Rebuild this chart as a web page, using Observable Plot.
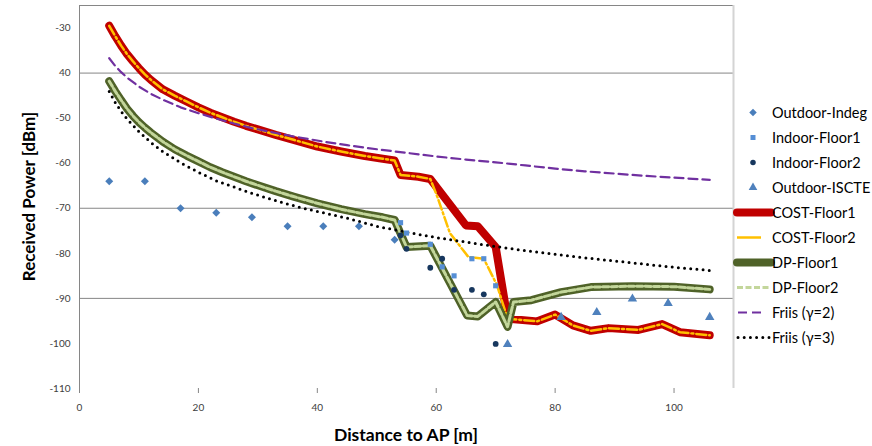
<!DOCTYPE html>
<html><head><meta charset="utf-8">
<script src="https://cdn.jsdelivr.net/npm/d3@7"></script>
<script src="https://cdn.jsdelivr.net/npm/@observablehq/plot@0.6"></script>
<style>
body{margin:0;background:#fff;}
#chart{position:relative;width:872px;height:446px;}
</style></head><body><div id="chart"></div>
<script>
// ---- data ----
const xTicks = [0, 20, 40, 60, 80, 100];
const yTickValues = [-110, -100, -90, -80, -70, -60, -50, -40, -30];
const yTickLabels = ["-110", "-100", "-90", "-80", "-70", "-60", "-50", "40", "-30"];
const gridValues = [-90, -70, -40, -25];

const indegDist = [5, 11, 17, 23, 29, 35, 41, 47, 53];
const indegPower = [-64, -64, -70, -71, -72, -74, -74, -74, -77];

const indoorDist = [54, 55, 59, 61, 63, 66, 68, 70];
const indoorFloor1Power = [-73.2, -75.5, -78, -83, -85, -81.2, -81.2, -87.2];
const indoorFloor2Power = [-76, -79, -83.2, -81.2, -88.1, -88.1, -89.1, -100.1];

const iscteDist = [72, 81, 87, 93, 99, 106];
const isctePower = [-100.2, -94.2, -93.1, -90.1, -91.1, -94.2];

const costDist = [5, 6, 7, 8, 9, 10, 11, 12, 14, 16, 18, 20, 22, 24, 26, 28, 30, 33, 36, 40, 44, 48, 51, 53, 54, 57, 59, 65, 67, 70, 72, 77, 80, 83, 86, 89, 94, 98, 101, 106];
const costFloor1Power = [-29.5, -31.8, -33.9, -35.8, -37.4, -38.9, -40.3, -41.5, -43.6, -45.0, -46.3, -47.6, -48.8, -49.8, -50.8, -51.7, -52.5, -53.7, -54.8, -56.3, -57.4, -58.4, -59.0, -59.4, -62.6, -63.0, -63.5, -73.8, -74.0, -78.6, -94.5, -95.1, -93.6, -96.0, -97.2, -96.6, -97.0, -95.7, -97.5, -98.2];

const cost2Dist = [5, 6, 7, 8, 9, 10, 11, 12, 14, 16, 18, 20, 22, 24, 26, 28, 30, 33, 36, 40, 44, 48, 51, 53, 54, 57, 59, 60.2, 62.3, 65.4, 68, 70.2, 72, 77, 80, 83, 86, 89, 94, 98, 101, 106];
const costFloor2Power = [-29.5, -31.8, -33.9, -35.8, -37.4, -38.9, -40.3, -41.5, -43.6, -45.0, -46.3, -47.6, -48.8, -49.8, -50.8, -51.7, -52.5, -53.7, -54.8, -56.3, -57.4, -58.4, -59.0, -59.4, -62.6, -63.0, -63.5, -67.5, -75.5, -80.8, -81.2, -87.0, -94.5, -95.1, -93.6, -96.0, -97.2, -96.6, -97.0, -95.7, -97.5, -98.2];

const dpDist = [5, 6, 7, 8, 9, 10, 11, 12, 14, 16, 18, 20, 22, 24, 26, 28, 30, 33, 36, 40, 44, 48, 51, 53, 55, 59, 65.2, 67, 70, 72, 73, 76, 81, 86, 93, 100, 106];
const dpFloor1Power = [-41.8, -44.0, -46.0, -47.9, -49.5, -50.9, -52.1, -53.2, -55.2, -56.9, -58.3, -59.6, -60.9, -62.0, -63.0, -64.0, -64.9, -66.2, -67.4, -68.9, -70.2, -71.3, -72.0, -72.6, -78.6, -78.3, -93.8, -94.0, -90.8, -96.3, -90.8, -90.4, -88.6, -87.5, -87.3, -87.4, -88.0];
const dpFloor2Power = [-41.8, -44.0, -46.0, -47.9, -49.5, -50.9, -52.1, -53.2, -55.2, -56.9, -58.3, -59.6, -60.9, -62.0, -63.0, -64.0, -64.9, -66.2, -67.4, -68.9, -70.2, -71.3, -72.0, -72.6, -78.6, -78.3, -93.8, -94.0, -90.8, -96.3, -90.8, -90.4, -88.6, -87.5, -87.3, -87.4, -88.0];

const friisDist = [5, 6, 7, 8, 10, 12, 14, 17, 20, 23, 26, 29, 33, 37, 41, 45, 50, 55, 60, 65, 70, 75, 80, 85, 90, 95, 100, 106];
const friis2Power = [-36.7, -38.4, -39.8, -41.0, -43.0, -44.6, -45.9, -47.6, -48.9, -50.1, -51.2, -52.2, -53.3, -54.3, -55.2, -56.0, -56.9, -57.7, -58.5, -59.2, -59.8, -60.5, -61.2, -61.8, -62.3, -62.8, -63.2, -63.7];
const friis3Power = [-44.1, -46.5, -48.5, -50.2, -53.0, -55.4, -57.4, -59.9, -62.0, -63.9, -65.3, -66.7, -68.3, -69.8, -71.0, -72.2, -74.0, -75.3, -76.5, -77.5, -78.5, -79.4, -80.2, -81.0, -81.7, -82.4, -83.1, -83.8];

const seriesNames = ["Outdoor-Indeg", "Indoor-Floor1", "Indoor-Floor2", "Outdoor-ISCTE", "COST-Floor1", "COST-Floor2", "DP-Floor1", "DP-Floor2", "Friis (\u03b3=2)", "Friis (\u03b3=3)"];

// ---- styles ----
const C = {
  indeg: "#4A7EBB", floor1: "#558ED5", floor2: "#17375E", iscte: "#4F81BD",
  cost1: "#C00000", cost2: "#FFC000", dp1: "#4F6228", dp2: "#C3D69B",
  friis2: "#7030A0", friis3: "#000000"
};
const zip = (xs, ys) => xs.map((d, i) => ({d, p: ys[i]}));

const font = "Lato, 'Open Sans', sans-serif";

const chart = Plot.plot({
  width: 872, height: 446,
  marginLeft: 79, marginRight: 139, marginTop: 5, marginBottom: 58,
  x: {domain: [0, 110]},
  y: {domain: [-110, -25]},
  style: {fontFamily: font, fontSize: "10px", color: "#404040", background: "white"},
  marks: [
    Plot.ruleY(gridValues, {stroke: "#868686", strokeWidth: 1}),
    Plot.ruleX([110], {stroke: "#D4D4D4", strokeWidth: 2}),
    Plot.ruleX([0], {stroke: "#868686", strokeWidth: 1}),
    Plot.axisX({ticks: xTicks, tickSize: 5, tickPadding: 10, stroke: "#868686", label: null, tickFormat: d => String(d)}),
    Plot.axisY({ticks: yTickValues, tickSize: 0, tickPadding: 9, label: null,
      tickFormat: d => yTickLabels[yTickValues.indexOf(d)]}),
    Plot.line(zip(costDist, costFloor1Power), {x: "d", y: "p", stroke: C.cost1, strokeWidth: 8, strokeLinecap: "round", strokeLinejoin: "round"}),
    Plot.line(zip(cost2Dist, costFloor2Power), {x: "d", y: "p", stroke: C.cost2, strokeWidth: 2.5, strokeDasharray: "10,3,2,3", strokeLinejoin: "round"}),
    Plot.line(zip(dpDist, dpFloor1Power), {x: "d", y: "p", stroke: C.dp1, strokeWidth: 8, strokeLinecap: "round", strokeLinejoin: "round"}),
    Plot.line(zip(dpDist, dpFloor2Power), {x: "d", y: "p", stroke: C.dp2, strokeWidth: 3, strokeDasharray: "6,2.5", strokeLinejoin: "round"}),
    Plot.line(zip(friisDist, friis2Power), {x: "d", y: "p", stroke: C.friis2, strokeWidth: 2.2, strokeDasharray: "9,5"}),
    Plot.line(zip(friisDist, friis3Power), {x: "d", y: "p", stroke: C.friis3, strokeWidth: 3, strokeDasharray: "0,6.2", strokeLinecap: "round"}),
    Plot.dot(zip(indegDist, indegPower), {x: "d", y: "p", symbol: "diamond2", r: 3.6, fill: C.indeg, stroke: "none"}),
    Plot.dot(zip(indoorDist, indoorFloor1Power), {x: "d", y: "p", symbol: "square", r: 2.9, fill: C.floor1, stroke: "none"}),
    Plot.dot(zip(indoorDist, indoorFloor2Power), {x: "d", y: "p", symbol: "circle", r: 2.9, fill: C.floor2, stroke: "none"}),
    Plot.dot(zip(iscteDist, isctePower), {x: "d", y: "p", symbol: "triangle", r: 3.5, fill: C.iscte, stroke: "none"})
  ]
});
document.getElementById("chart").appendChild(chart);

// ---- axis titles and legend ----
const svg = d3.select(chart);
svg.append("text").attr("x", 406).attr("y", 441)
  .attr("text-anchor", "middle").attr("font-family", font).attr("font-weight", "bold")
  .attr("font-size", "17.5px").attr("fill", "#000").text("Distance to AP [m]");
svg.append("text").attr("transform", "translate(35,196.5) rotate(-90)")
  .attr("text-anchor", "middle").attr("font-family", font).attr("font-weight", "bold")
  .attr("font-size", "17px").attr("fill", "#000").text("Received Power [dBm]");

const lg = svg.append("g").attr("font-family", font).attr("font-size", "14.5px").attr("fill", "#000");
const legendStyle = [
  {sym: d3.symbolDiamond2, size: 36, fill: C.indeg},
  {sym: d3.symbolSquare, size: 25, fill: C.floor1},
  {sym: d3.symbolCircle, size: 24, fill: C.floor2},
  {sym: d3.symbolTriangle, size: 32, fill: C.iscte},
  {line: C.cost1, w: 8, x1: 737, x2: 771, cap: "round"},
  {line: C.cost2, w: 2.5, x1: 737, x2: 761},
  {line: C.dp1, w: 8, x1: 737, x2: 771, cap: "round"},
  {line: C.dp2, w: 3, x1: 737, x2: 770, dash: "6,2.5"},
  {line: C.friis2, w: 2.2, x1: 738, x2: 765, dash: "9,5"},
  {line: C.friis3, w: 3, x1: 738, x2: 771, dash: "0,6.2", cap: "round"}
];
seriesNames.forEach((name, i) => {
  const y = 112.5 + i * 25;
  const s = legendStyle[i];
  if (s.sym) {
    lg.append("path").attr("d", d3.symbol(s.sym, s.size)()).attr("transform", `translate(753,${y})`).attr("fill", s.fill);
  } else {
    lg.append("line").attr("x1", s.x1).attr("x2", s.x2).attr("y1", y).attr("y2", y)
      .attr("stroke", s.line).attr("stroke-width", s.w)
      .attr("stroke-linecap", s.cap || "butt").attr("stroke-dasharray", s.dash || null);
  }
  lg.append("text").attr("x", 772).attr("y", y).attr("dy", "0.35em").attr("text-anchor", "start").text(name);
});
</script></body></html>
